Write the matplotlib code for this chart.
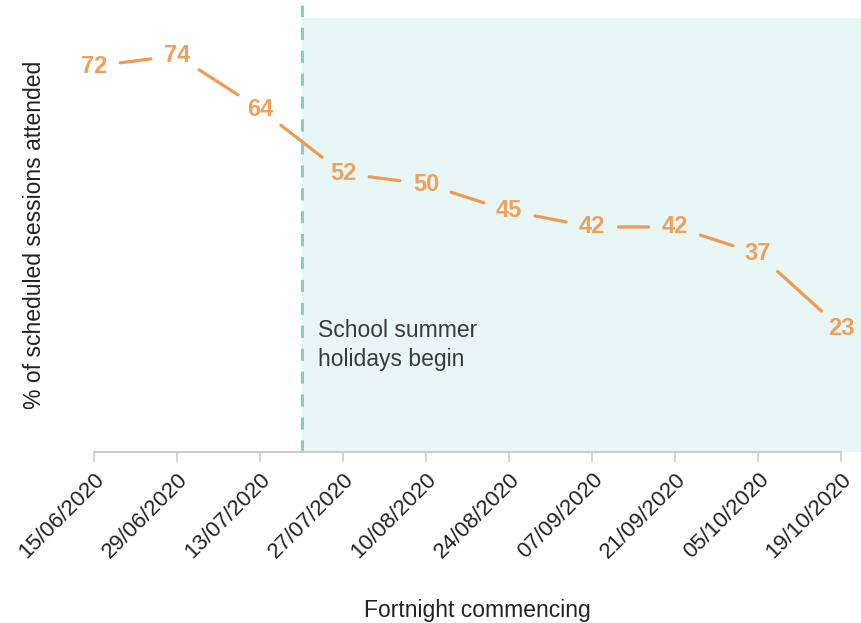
import matplotlib.pyplot as plt

plt.rcParams['font.family'] = ['Liberation Sans', 'DejaVu Sans']

# fortnightly attendance
fortnights = ['15/06/2020', '29/06/2020', '13/07/2020', '27/07/2020', '10/08/2020',
              '24/08/2020', '07/09/2020', '21/09/2020', '05/10/2020', '19/10/2020']
attended = [72, 74, 64, 52, 50, 45, 42, 42, 37, 23]
holiday_start = 2.5  # between 13/07 and 27/07

orange = '#EE9A52'
teal = '#7DD0CC'

fig = plt.figure(figsize=(8.61, 6.23), dpi=100)
ax = fig.add_axes([94 / 861, 1 - 452 / 623, 1 - 94 / 861, (452 - 18) / 623])

x = list(range(len(attended)))
ax.set_xlim(0, 9.24)
ax.set_ylim(0, 81)

# summer holidays shading and marker line
ax.axvspan(holiday_start, 9.24, color='#E8F6F6', zorder=0, lw=0)
ax.plot([holiday_start, holiday_start], [0, 83.5], color=teal, lw=2.2,
        ls=(0, (4, 3.5)), clip_on=False, zorder=1)
ax.text(holiday_start + 0.2, 20, 'School summer\nholidays begin', fontsize=16.5,
        color='#3a3a3a', ha='left', va='center', linespacing=1.3)

# line segments broken around the value labels
for i in range(len(x) - 1):
    ax.annotate('', xy=(x[i + 1], attended[i + 1]), xytext=(x[i], attended[i]),
                arrowprops=dict(arrowstyle='-', color=orange, lw=2.3,
                                shrinkA=19, shrinkB=19), zorder=2)
for xi, v in zip(x, attended):
    ax.text(xi, v, str(v), ha='center', va='center', fontsize=17,
            fontweight='bold', color='#EFA05A', zorder=3)

ax.set_xticks(x)
ax.set_xticklabels(fortnights, rotation=45, ha='right', rotation_mode='anchor',
                   fontsize=16, color='#222222')
ax.tick_params(axis='x', length=7, width=1.2, color='#CCCCCC', pad=5)
ax.set_yticks([])
for s in ['top', 'right', 'left']:
    ax.spines[s].set_visible(False)
ax.spines['bottom'].set_color('#CCCCCC')
ax.spines['bottom'].set_linewidth(1.5)
ax.spines['bottom'].set_bounds(0, 9)

ax.set_ylabel('% of scheduled sessions attended', fontsize=16.5, color='#222222')
ax.yaxis.set_label_coords((35 - 94) / 767, 0.5)
ax.yaxis.label.set_va('center')
ax.set_xlabel('Fortnight commencing', fontsize=16.5, color='#222222')
ax.xaxis.set_label_coords((477 - 94) / 767, -(611 - 452) / 434)
ax.xaxis.label.set_va('center')

fig.savefig('out.png', dpi=100)
